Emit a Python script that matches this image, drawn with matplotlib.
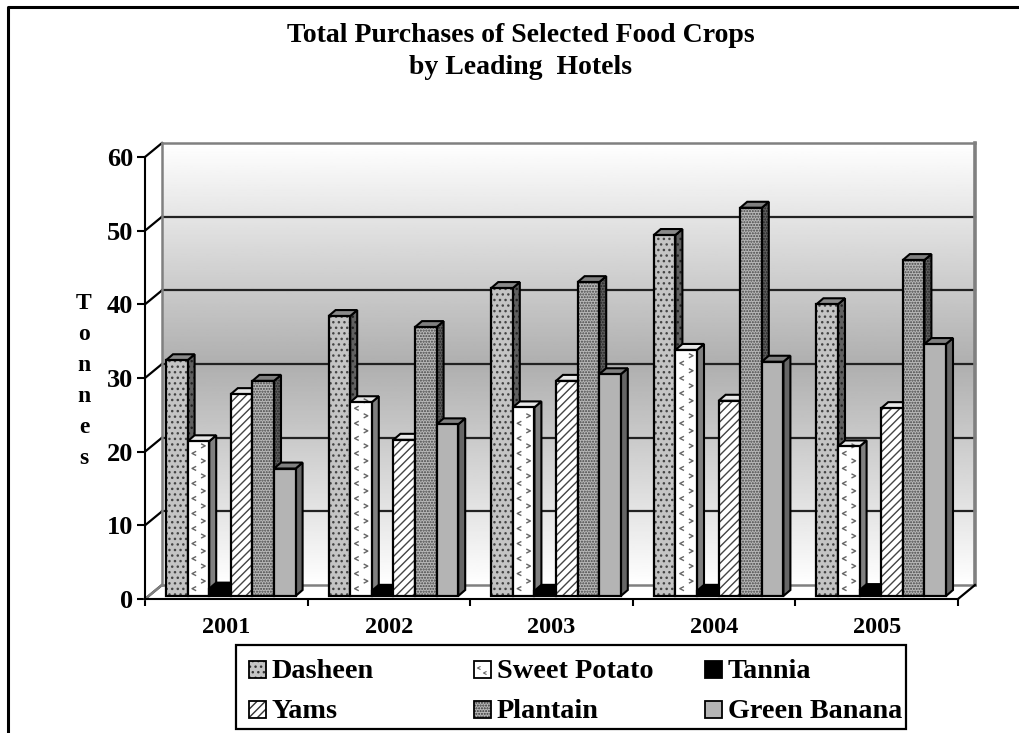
import matplotlib
matplotlib.use("Agg")
import matplotlib.pyplot as plt
from matplotlib.lines import Line2D
from matplotlib.path import Path
from matplotlib.patches import Polygon, Rectangle
import numpy as np

years = ["2001", "2002", "2003", "2004", "2005"]
dasheen = [32.0, 38.0, 41.8, 49.0, 39.6]
sweet_potato = [21.0, 26.3, 25.6, 33.4, 20.3]
tannia = [1.0, 0.7, 0.7, 0.7, 0.8]
yams = [27.4, 21.2, 29.2, 26.5, 25.5]
plantain = [29.2, 36.5, 42.6, 52.7, 45.6]
green_banana = [17.3, 23.3, 30.1, 31.8, 34.2]
y_ticks = [0, 10, 20, 30, 40, 50, 60]

W, H = 1019, 733
plt.rcParams['font.family'] = ['Liberation Serif', 'DejaVu Serif']
plt.rcParams['font.weight'] = 'bold'
plt.rcParams['hatch.linewidth'] = 1.0

fig = plt.figure(figsize=(W / 100, H / 100), dpi=100)
ax = fig.add_axes([145 / W, (H - 599) / H, 813 / W, 442 / H])

# pixel to data factors, depth of the box and of the bars
px_x = 5 / 813
px_y = 60 / 442
depth_x, depth_y = 17 * px_x, 14 * px_y
bar_dx, bar_dy = 7 * px_x, 6 * px_y

# back wall with its gradient
shade = np.abs(np.linspace(-1, 1, 256)).reshape(-1, 1)
ax.imshow(175 + 80 * shade, cmap='gray', vmin=0, vmax=255, aspect='auto', zorder=1,
          extent=(depth_x, 5 + depth_x, depth_y, 60 + depth_y), clip_on=False)
ax.set_xlim(0, 5)
ax.set_ylim(0, 60)

for t in y_ticks[1:-1]:
    ax.plot([depth_x, 5 + depth_x], [t + depth_y, t + depth_y], color='#222222', lw=1.6, zorder=2, clip_on=False)
for t in y_ticks:
    ax.plot([0, depth_x], [t, t + depth_y], color='black', lw=1.6, zorder=2, clip_on=False)

wall = '#808080'
ax.plot([depth_x, depth_x], [depth_y, 60 + depth_y], color=wall, lw=1.8, zorder=2, clip_on=False)
ax.plot([depth_x, 5 + depth_x], [60 + depth_y, 60 + depth_y], color=wall, lw=1.8, zorder=2, clip_on=False)
ax.plot([5 + depth_x, 5 + depth_x], [depth_y, 60 + depth_y], color=wall, lw=2.6, zorder=2, clip_on=False)
ax.plot([depth_x, 5 + depth_x], [depth_y, depth_y], color=wall, lw=1.8, zorder=2, clip_on=False)
ax.plot([0, depth_x], [0, depth_y], color=wall, lw=1.8, zorder=2, clip_on=False)
ax.plot([5, 5 + depth_x], [0, depth_y], color='black', lw=1.6, zorder=2, clip_on=False)

series = [
    ("Dasheen", dasheen, '#c4c4c4', '#606060', '#8a8a8a', '...'),
    ("Sweet Potato", sweet_potato, 'white', '#808080', '#e8e8e8', None),
    ("Tannia", tannia, 'black', 'black', 'black', None),
    ("Yams", yams, 'white', '#808080', '#e8e8e8', '////'),
    ("Plantain", plantain, '#b8b8b8', '#606060', '#808080', '......'),
    ("Green Banana", green_banana, '#b4b4b4', '#666666', '#808080', None),
]

chevron_l = Path([(1, 1), (-1, 0), (1, -1)])
chevron_r = Path([(-1, 1), (1, 0), (-1, -1)])

group_start = 21 / 162.6
bar_w = 21.6 * 5 / 813
base = 3 * px_y
z = 3
for i in range(len(years)):
    for j, (name, vals, face, side, top, hatch) in enumerate(series):
        x0 = i + group_start + j * bar_w
        x1 = x0 + bar_w
        y1 = vals[i] + base
        side_hatch = hatch if hatch != '////' else None
        ax.add_patch(Polygon([(x1, base), (x1 + bar_dx, base + bar_dy), (x1 + bar_dx, y1 + bar_dy), (x1, y1)],
                             facecolor=side, edgecolor='#222222', hatch=side_hatch, lw=0, zorder=z, clip_on=False))
        ax.add_patch(Polygon([(x1, base), (x1 + bar_dx, base + bar_dy), (x1 + bar_dx, y1 + bar_dy), (x1, y1)],
                             facecolor='none', edgecolor='black', lw=1.5, zorder=z, clip_on=False))
        ax.add_patch(Polygon([(x0, y1), (x0 + bar_dx, y1 + bar_dy), (x1 + bar_dx, y1 + bar_dy), (x1, y1)],
                             facecolor=top, edgecolor='black', lw=1.5, zorder=z, clip_on=False))
        ax.add_patch(Rectangle((x0, base), bar_w, vals[i], facecolor=face, edgecolor='#444444' if hatch else 'black',
                               hatch=hatch, lw=0, zorder=z, clip_on=False))
        if name == "Sweet Potato":
            # the little chevrons of this pattern
            rows = np.arange(base + 1, y1 - 0.5, 2.04)
            ax.scatter(np.full(len(rows), x0 + 0.3 * bar_w), rows, marker=chevron_l, s=9, facecolors='none',
                       edgecolors='#666666', linewidths=1, zorder=z, clip_on=False)
            ax.scatter(np.full(len(rows), x0 + 0.72 * bar_w), rows + 1.02, marker=chevron_r, s=9, facecolors='none',
                       edgecolors='#666666', linewidths=1, zorder=z, clip_on=False)
        ax.add_patch(Rectangle((x0, base), bar_w, vals[i], facecolor='none', edgecolor='black', lw=1.6,
                               zorder=z, clip_on=False))
        z += 0.01

ax.spines['top'].set_visible(False)
ax.spines['right'].set_visible(False)
for s in ['left', 'bottom']:
    ax.spines[s].set_linewidth(1.5)
    ax.spines[s].set_zorder(2.5)
ax.set_yticks(y_ticks)
ax.set_xticks(range(6))
ax.set_xticklabels([])
ax.set_xticks(np.arange(len(years)) + 0.5, years, minor=True)
ax.tick_params(axis='y', length=5.5, width=1.5, labelsize=19, pad=3)
ax.tick_params(axis='x', which='major', length=5, width=1.5)
ax.tick_params(axis='x', which='minor', length=0, labelsize=17.5, pad=13)

# overlay in pixels for title, axis title, legend and border
over = fig.add_axes([0, 0, 1, 1], zorder=10)
over.set_xlim(0, W)
over.set_ylim(H, 0)
over.axis('off')

over.text(521, 35, "Total Purchases of Selected Food Crops", ha='center', va='center', fontsize=20)
over.text(521, 68, "by Leading  Hotels", ha='center', va='center', fontsize=20)
over.text(84, 381, "T\no\nn\nn\ne\ns", ha='center', va='center', fontsize=17, linespacing=1.62)

# legend box, three columns with uneven gaps as in the original
over.add_patch(Rectangle((236, 645), 670, 84, facecolor='white', edgecolor='black', lw=1.6))
legend_cells = [(0, 249, 671), (3, 249, 711), (1, 474, 671), (4, 474, 711), (2, 705, 671), (5, 705, 711)]
for idx, hx, hy in legend_cells:
    name, vals, face, side, top, hatch = series[idx]
    over.add_patch(Rectangle((hx, hy - 10), 17, 17, facecolor=face, edgecolor='#333333' if hatch else 'black',
                             hatch=hatch, lw=0))
    if idx == 1:
        over.scatter([hx + 5, hx + 11], [hy - 3, hy + 2], marker=chevron_l, s=5, facecolors='none',
                     edgecolors='#666666', linewidths=0.8)
    over.add_patch(Rectangle((hx, hy - 10), 17, 17, facecolor='none', edgecolor='black', lw=1.3))
    over.text(hx + 23, hy, name, ha='left', va='center', fontsize=20.3)

# chart border, runs off the right and bottom of the picture
over.add_artist(Line2D([8, 8, W], [H, 7, 7], color='black', lw=2.2))

fig.savefig("out.png", dpi=100)
